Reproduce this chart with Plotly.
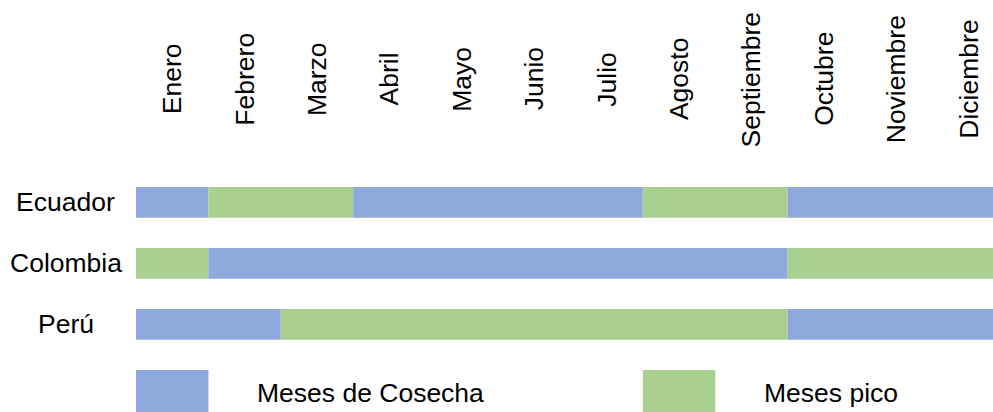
import plotly.graph_objects as go

months = ["Enero", "Febrero", "Marzo", "Abril", "Mayo", "Junio", "Julio",
          "Agosto", "Septiembre", "Octubre", "Noviembre", "Diciembre"]
countries = ["Ecuador", "Colombia", "Perú"]
# C = Meses de Cosecha, P = Meses pico
ecuador = ["C", "P", "P", "C", "C", "C", "C", "P", "P", "C", "C", "C"]
colombia = ["P", "C", "C", "C", "C", "C", "C", "C", "C", "P", "P", "P"]
peru = ["C", "C", "P", "P", "P", "P", "P", "P", "P", "C", "C", "C"]
status = [ecuador, colombia, peru]
legend_labels = {"C": "Meses de Cosecha", "P": "Meses pico"}
colors = {"C": "#8EA9DB", "P": "#A9D08E"}

FONT = "Liberation Sans, Arial, sans-serif"
FS = 26.5

fig = go.Figure()

for row, (name, st) in enumerate(zip(countries, status)):
    start = 0
    for i in range(1, 13):
        if i == 12 or st[i] != st[start]:
            fig.add_trace(go.Bar(
                orientation="h", y=[row], x=[i - start], base=[start],
                width=0.505, marker=dict(color=colors[st[start]], line=dict(width=0)),
                showlegend=False, hoverinfo="skip"))
            start = i

# month labels
for i, m in enumerate(months):
    fig.add_annotation(x=i + 0.5, y=-2.02, text=m, textangle=-90, showarrow=False,
                       xanchor="center", yanchor="middle",
                       font=dict(family=FONT, size=FS, color="#000"))
# country labels
for row, name in enumerate(countries):
    fig.add_annotation(xref="paper", x=-0.0817, y=row, text=name, showarrow=False,
                       xanchor="center", yanchor="middle",
                       font=dict(family=FONT, size=FS, color="#000"))

# legend boxes
legend_pos = {"C": 0, "P": 7}
for key, x0 in legend_pos.items():
    fig.add_shape(type="rect", xref="x", yref="y", x0=x0, x1=x0 + 1.0,
                  y0=2.75, y1=3.6, fillcolor=colors[key], line=dict(width=0), layer="below")
    fig.add_annotation(x=x0 + 1.645, y=3.126, text=legend_labels[key], showarrow=False,
                       xanchor="left", yanchor="middle",
                       font=dict(family=FONT, size=FS, color="#000"))

fig.update_layout(
    width=993, height=412,
    margin=dict(l=136, r=0, t=0, b=0),
    plot_bgcolor="white", paper_bgcolor="white",
    barmode="overlay", showlegend=False,
    xaxis=dict(range=[0, 11.837], visible=False, fixedrange=True),
    yaxis=dict(range=[3.438, -3.316], visible=False, fixedrange=True),
)

fig.write_html("out.html", config={"displayModeBar": False},
               post_script="document.body.style.margin='0px';document.body.style.overflow='hidden';")
